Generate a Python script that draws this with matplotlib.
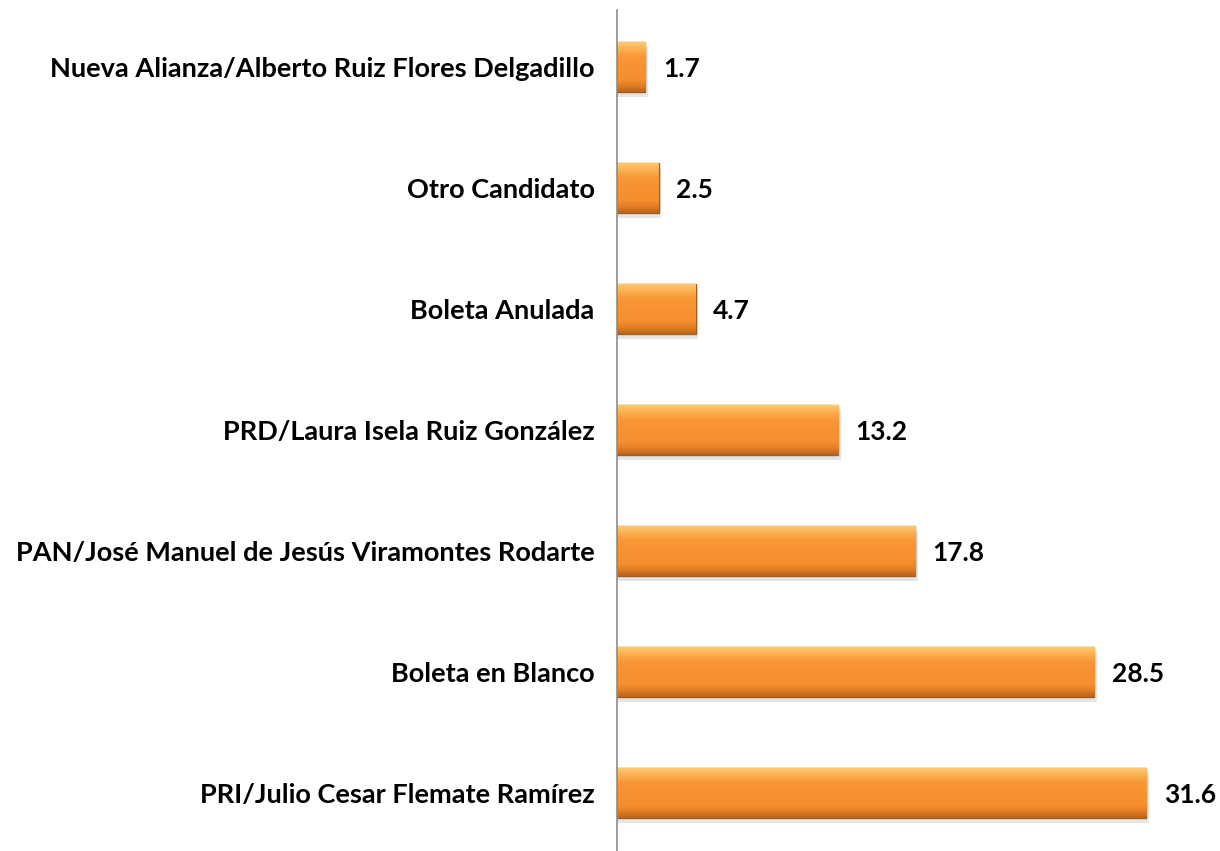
import numpy as np
import matplotlib.pyplot as plt
from matplotlib.colors import LinearSegmentedColormap

# categories from bottom to top
categories = [
    "PRI/Julio Cesar Flemate Ramírez",
    "Boleta en Blanco",
    "PAN/José Manuel de Jesús Viramontes Rodarte",
    "PRD/Laura Isela Ruiz González",
    "Boleta Anulada",
    "Otro Candidato",
    "Nueva Alianza/Alberto Ruiz Flores Delgadillo",
]
values = [31.6, 28.5, 17.8, 13.2, 4.7, 2.5, 1.7]

plt.rcParams['font.family'] = ['Lato', 'DejaVu Sans']

fig = plt.figure(figsize=(12.2, 8.51), dpi=100)
ax = fig.add_axes([0.5057, 0.0, 0.4943, 0.988])

y = np.arange(len(categories))
bar_h = 0.41

# vertical gradient to mimic the bevelled orange bars
grad = LinearSegmentedColormap.from_list(
    "bev", [(0.0, "#B8641C"), (0.12, "#E07D24"), (0.25, "#F58E2E"),
            (0.7, "#F99635"), (0.85, "#FBAE4E"), (1.0, "#FDC870")])
img = np.linspace(0, 1, 100).reshape(-1, 1)

bars = ax.barh(y, values, height=bar_h, color="#F7922E",
               edgecolor="#A65C18", linewidth=1.0, zorder=3)

for b, v in zip(bars, values):
    x0, y0 = b.get_x(), b.get_y()
    w, h = b.get_width(), b.get_height()
    # drop shadow
    ax.barh(y0 + h / 2 - 0.04, w + 0.15, height=h, left=x0,
            color="#000000", alpha=0.10, linewidth=0, zorder=2)
    im = ax.imshow(img, cmap=grad, aspect="auto", origin="lower",
                   extent=[x0, x0 + w, y0, y0 + h], zorder=4)
    im.set_clip_path(b)
    ax.text(v + 1.05, y0 + h / 2 - 0.02, f"{v:.1f}", va="center", ha="left",
            fontsize=19, fontweight="bold", color="black", zorder=5)

ax.set_xlim(0, 36)
ax.set_ylim(-0.48, 6.47)
ax.set_yticks(y)
ax.set_yticklabels(categories, fontsize=19.5, fontweight="bold")
ax.tick_params(axis="y", length=0, pad=16)
ax.set_xticks([])

for side in ["top", "right", "bottom"]:
    ax.spines[side].set_visible(False)
ax.spines["left"].set_color("#8C8C8C")
ax.spines["left"].set_linewidth(1.2)
ax.spines["left"].set_zorder(6)

fig.savefig("out.png", dpi=100)
